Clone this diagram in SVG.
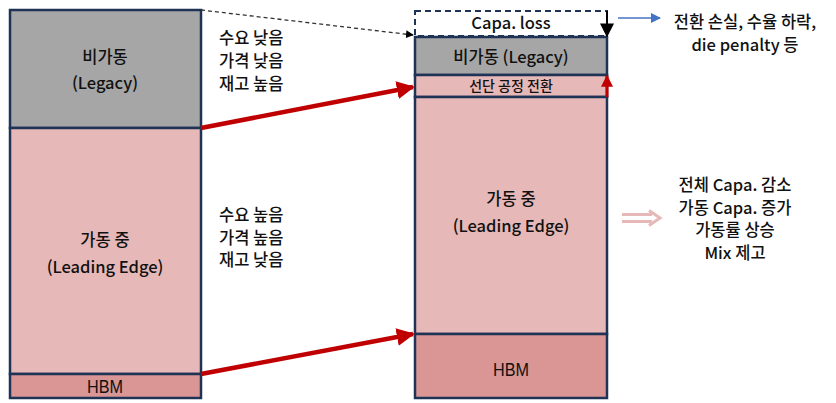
<svg xmlns="http://www.w3.org/2000/svg" width="836" height="403" viewBox="0 0 836 403">
<defs>
<style>
text{font-family:"Noto Sans CJK KR","Noto Sans",sans-serif;font-size:16.5px;font-weight:500;fill:#111;}
.c{text-anchor:middle;}
.box{stroke:#1f3356;stroke-width:2.5;}
.gray{fill:#a6a6a6;}
.pink{fill:#e6b8b7;}
.hbm{fill:#d99694;}
.narrow{font-family:"Liberation Sans Narrow","Liberation Sans",sans-serif;font-size:18px;font-weight:400;}
</style>
<marker id="ar" viewBox="0 0 10 10" refX="9" refY="5" markerWidth="4" markerHeight="4" orient="auto" markerUnits="strokeWidth"><path d="M0,0L10,5L0,10z" fill="#c00000"/></marker>
<marker id="ak" viewBox="0 0 10 10" refX="9" refY="5" markerWidth="7" markerHeight="7" orient="auto"><path d="M0,0L10,5L0,10z" fill="#000"/></marker>
<marker id="akb" viewBox="0 0 10 10" refX="9" refY="5" markerWidth="6" markerHeight="6" orient="auto"><path d="M0,0L10,5L0,10z" fill="#000"/></marker>
<marker id="ab" viewBox="0 0 10 10" refX="9" refY="5" markerWidth="8" markerHeight="8" orient="auto"><path d="M0,0L10,5L0,10z" fill="#4472c4"/></marker>
</defs>
<g id="left-legacy"><rect class="box gray" x="10" y="10" width="191" height="118"/><text class="c" x="105" y="63">비가동</text><text class="c" x="105" y="89">(Legacy)</text></g>
<g id="left-leading"><rect class="box pink" x="10" y="128" width="191" height="246"/><text class="c" x="105" y="246">가동 중</text><text class="c" x="105" y="273">(Leading Edge)</text></g>
<g id="left-hbm"><rect class="box hbm" x="10" y="374" width="191" height="24"/><text class="c narrow" x="105" y="393" textLength="36" lengthAdjust="spacingAndGlyphs">HBM</text></g>
<g id="note-low"><text x="219" y="44">수요 낮음</text><text x="219" y="67">가격 낮음</text><text x="219" y="90">재고 높음</text></g>
<g id="note-high"><text x="219" y="221">수요 높음</text><text x="219" y="244">가격 높음</text><text x="219" y="266">재고 낮음</text></g>
<g id="right-loss"><rect x="415" y="11" width="192" height="25" fill="#fff" stroke="#1f3356" stroke-width="2" stroke-dasharray="6,4"/><text class="c" x="511" y="29">Capa. loss</text></g>
<g id="right-legacy"><rect class="box gray" x="415" y="37" width="192" height="38"/><text class="c" x="511" y="63">비가동 (Legacy)</text></g>
<g id="right-shift"><rect class="box pink" x="415" y="75" width="192" height="22"/><text class="c" x="511" y="91" style="font-size:14px">선단 공정 전환</text></g>
<g id="right-leading"><rect class="box pink" x="415" y="97" width="192" height="237"/><text class="c" x="511" y="205">가동 중</text><text class="c" x="511" y="232">(Leading Edge)</text></g>
<g id="right-hbm"><rect class="box hbm" x="415" y="334" width="192" height="64"/><text class="c narrow" x="511" y="376" textLength="36" lengthAdjust="spacingAndGlyphs">HBM</text></g>
<g id="note-loss"><text class="c" x="745" y="28">전환 손실, 수율 하락,</text><text class="c" x="745" y="51">die penalty 등</text></g>
<g id="note-result"><text class="c" x="735" y="191">전체 Capa. 감소</text><text class="c" x="735" y="214">가동 Capa. 증가</text><text class="c" x="735" y="236">가동률 상승</text><text class="c" x="735" y="259">Mix 제고</text></g>
<g id="connectors">
<line x1="201" y1="10" x2="413" y2="35" stroke="#333" stroke-width="1.3" stroke-dasharray="4,3" marker-end="url(#akb)"/>
<line x1="201" y1="128" x2="413" y2="87" stroke="#c00000" stroke-width="4.5" marker-end="url(#ar)"/>
<line x1="201" y1="374" x2="413" y2="334" stroke="#c00000" stroke-width="4.5" marker-end="url(#ar)"/>
<line x1="607" y1="11" x2="607" y2="36" stroke="#000" stroke-width="2" marker-end="url(#ak)"/>
<line x1="607" y1="97" x2="607" y2="76" stroke="#c00000" stroke-width="3" marker-end="url(#ar)"/>
<line x1="618" y1="18" x2="660" y2="18" stroke="#4472c4" stroke-width="1.3" marker-end="url(#ab)"/>
<path d="M622,214.5H652M622,221.5H652M649,210.5L660,218L649,225.5" fill="none" stroke="#e6b8b7" stroke-width="3"/>
</g>
</svg>
